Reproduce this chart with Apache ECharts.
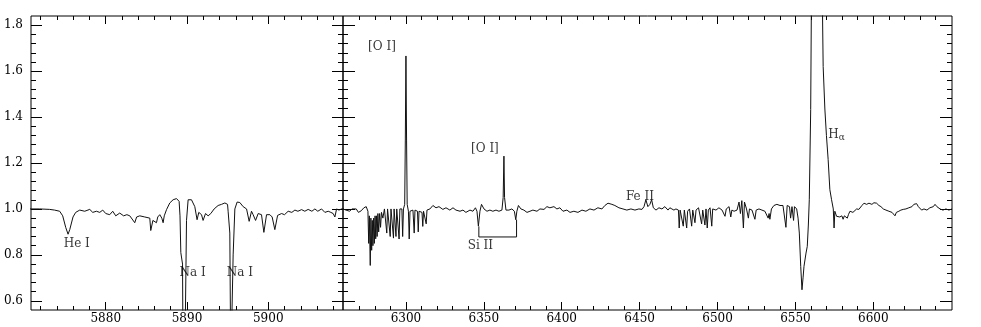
<!DOCTYPE html>
<html><head><meta charset="utf-8">
<script src="https://cdn.jsdelivr.net/npm/echarts@6/dist/echarts.min.js"></script>
<style>html,body{margin:0;padding:0;background:#fff}#c{width:981px;height:327px}</style>
</head><body><div id="c"></div>
<script>
// ---- data (wavelength in Angstrom, normalized flux) ----
const leftSpectrum = [
[5870.64,1.0],[5871.87,1.0],[5873.1,0.998],[5873.7,0.995],[5874.33,0.99],[5874.7,0.97],[5875.07,0.92],[5875.36,0.89],[5875.57,0.91],[5875.97,0.965],
[5876.3,0.985],[5876.8,0.995],[5877.41,0.99],[5878.03,0.998],[5878.4,0.985],[5878.85,0.99],[5879.26,0.985],[5879.63,0.995],[5880.0,0.98],[5880.49,0.975],
[5880.86,0.99],[5881.23,0.97],[5881.72,0.982],[5882.2,0.97],[5882.6,0.975],[5882.96,0.97],[5883.2,0.965],[5883.57,0.94],[5883.8,0.965],[5884.19,0.97],
[5884.8,0.965],[5885.42,0.96],[5885.54,0.906],[5885.8,0.95],[5885.91,0.955],[5886.24,0.94],[5886.4,0.965],[5886.65,0.975],[5886.9,0.96],[5887.06,0.94],
[5887.2,0.97],[5887.48,0.997],[5887.88,1.026],[5888.29,1.04],[5888.71,1.045],[5889.03,1.033],[5889.14,0.97],[5889.24,0.81],[5889.45,0.76],[5889.52,0.3],
[5889.67,0.3],[5889.79,0.5],[5889.94,0.95],[5890.14,1.04],[5890.55,1.04],[5890.96,1.01],[5891.24,0.953],[5891.45,0.985],[5891.79,0.975],[5891.98,0.95],
[5892.28,0.98],[5892.6,0.97],[5892.93,0.98],[5893.34,1.0],[5893.83,1.015],[5894.25,1.02],[5894.66,1.026],[5894.99,1.02],[5895.06,0.99],[5895.27,0.895],
[5895.39,0.3],[5895.55,0.3],[5895.68,0.8],[5895.89,1.0],[5896.17,1.03],[5896.5,1.028],[5896.91,1.01],[5897.33,1.0],[5897.65,0.946],[5897.94,0.99],
[5898.14,0.975],[5898.44,0.95],[5898.76,0.98],[5899.17,0.975],[5899.46,0.898],[5899.79,0.975],[5900.2,0.975],[5900.48,0.965],[5900.81,0.91],[5901.15,0.972],
[5901.64,0.98],[5902.0,0.975],[5902.45,0.99],[5902.9,0.985],[5903.28,0.995],[5903.65,0.99],[5904.1,0.997],[5904.5,0.99],[5904.91,0.998],[5905.37,0.99],
[5905.74,1.0],[5906.1,0.99],[5906.56,1.0],[5906.97,0.985],[5907.38,0.99],[5907.7,0.985],[5907.99,0.98],[5908.2,0.965],[5908.41,1.0],[5908.7,0.995],
[5909.03,1.0],[5909.3,1.0]
];
const rightSpectrum = [
[6259.6,1.0],[6261.5,0.995],[6263.9,0.99],[6265.3,1.0],[6268.1,1.0],[6269.5,0.985],[6271.3,0.992],[6273.0,1.005],[6274.5,1.01],[6275.6,0.99],
[6276.1,0.85],[6276.5,0.97],[6277.1,0.754],[6277.5,0.96],[6278.0,0.82],[6278.4,0.95],[6278.8,0.84],[6279.3,0.96],[6279.7,0.85],[6280.2,0.97],
[6280.6,0.87],[6281.1,0.97],[6281.5,0.88],[6282.0,0.98],[6282.5,0.9],[6283.1,0.98],[6283.7,0.92],[6284.3,0.985],[6285.2,0.96],[6286.2,1.0],
[6287.2,1.0],[6287.7,0.895],[6288.2,1.0],[6289.4,1.0],[6289.9,0.88],[6290.4,1.0],[6291.5,1.0],[6292.0,0.873],[6292.4,1.0],[6293.1,1.0],
[6293.6,0.88],[6294.1,1.0],[6295.2,1.0],[6295.6,0.869],[6296.1,1.0],[6297.4,1.0],[6297.9,0.88],[6298.4,1.0],[6299.2,1.02],[6299.6,1.3],
[6300.0,1.666],[6300.4,1.3],[6300.8,1.02],[6301.6,0.99],[6302.1,0.869],[6302.6,0.99],[6304.5,0.995],[6305.3,0.895],[6305.8,0.995],[6307.4,0.99],
[6307.9,0.9],[6308.4,0.99],[6310.3,0.985],[6310.8,0.924],[6311.3,0.99],[6312.5,0.99],[6313.0,0.935],[6313.5,0.995],[6315.4,1.0],[6317.3,1.015],
[6319.3,1.005],[6321.2,1.01],[6323.7,0.998],[6325.7,1.005],[6328.2,0.995],[6330.2,1.005],[6332.1,0.995],[6334.7,0.99],[6336.6,0.995],[6338.5,0.985],
[6341.1,0.995],[6343.0,0.99],[6344.6,1.005],[6345.6,0.99],[6346.5,0.925],[6347.5,0.99],[6348.5,1.02],[6350.1,1.0],[6352.0,0.99],[6353.9,0.995],
[6355.8,0.99],[6357.8,0.995],[6359.7,0.99],[6361.6,0.995],[6362.4,1.05],[6362.9,1.23],[6363.3,1.05],[6364.2,0.995],[6366.1,0.995],[6368.0,1.0],
[6369.6,0.99],[6370.5,0.953],[6371.2,0.99],[6372.2,1.015],[6373.8,1.0],[6375.7,0.995],[6377.7,0.985],[6379.6,0.99],[6381.5,0.995],[6384.1,0.99],
[6386.0,1.0],[6388.6,0.998],[6390.5,1.01],[6392.4,1.005],[6395.0,1.01],[6396.9,1.0],[6398.8,1.005],[6400.8,0.99],[6403.3,0.995],[6405.3,0.985],
[6407.8,0.99],[6410.4,0.985],[6413.0,0.995],[6415.5,0.99],[6418.1,1.0],[6420.7,0.995],[6423.2,1.005],[6425.8,1.0],[6427.7,1.015],[6429.7,1.025],
[6430.9,1.033],[6432.2,1.02],[6434.1,1.015],[6436.7,1.005],[6439.3,1.0],[6441.8,0.995],[6444.4,1.0],[6447.0,0.995],[6449.5,1.0],[6451.5,0.998],
[6452.8,1.01],[6454.0,1.04],[6455.3,1.01],[6456.6,1.02],[6457.7,1.04],[6458.8,1.005],[6460.5,0.995],[6462.4,1.005],[6464.3,1.0],[6466.2,1.01],
[6468.2,0.995],[6469.4,1.005],[6470.7,1.0],[6472.0,0.995],[6473.3,1.0],[6474.9,0.995],[6475.4,0.917],[6476.0,0.995],[6477.2,1.0],[6478.0,0.925],
[6478.7,0.995],[6480.2,0.917],[6480.8,0.99],[6482.0,1.0],[6483.4,0.925],[6484.1,0.995],[6485.5,0.94],[6486.2,0.995],[6487.8,1.005],[6489.8,0.935],
[6490.5,0.995],[6491.9,0.93],[6492.6,1.0],[6493.4,0.917],[6494.1,0.995],[6495.2,1.005],[6496.3,0.925],[6496.9,1.0],[6499.0,0.995],[6500.9,1.005],
[6502.9,0.995],[6504.8,0.968],[6505.6,1.0],[6507.4,1.01],[6508.5,0.965],[6509.2,0.995],[6510.6,0.99],[6512.5,0.995],[6513.8,1.03],[6514.7,0.98],
[6515.6,1.036],[6516.6,0.917],[6517.3,1.03],[6518.6,1.0],[6519.8,0.96],[6520.5,1.0],[6522.1,0.995],[6524.0,0.955],[6524.8,0.995],[6526.6,1.0],
[6528.5,0.995],[6530.4,0.99],[6532.5,0.96],[6533.1,0.98],[6533.6,0.955],[6534.6,1.0],[6536.2,1.015],[6538.1,1.02],[6540.1,1.015],[6542.0,1.015],
[6543.9,0.92],[6544.7,1.015],[6546.2,1.01],[6546.9,0.96],[6547.8,1.01],[6548.8,0.95],[6549.4,1.01],[6550.8,1.0],[6551.7,0.96],[6552.5,0.895],
[6553.4,0.75],[6554.2,0.648],[6554.9,0.7],[6555.5,0.75],[6556.8,0.808],[6557.6,0.837],[6558.3,0.93],[6558.9,1.04],[6559.5,1.3],[6559.8,1.433],
[6560.2,1.85],[6561.0,2.4],[6562.2,2.8],[6563.8,2.9],[6565.8,2.6],[6567.0,2.0],[6567.4,1.84],[6567.8,1.62],[6568.9,1.435],[6569.9,1.32],
[6571.0,1.215],[6572.1,1.084],[6573.2,1.04],[6574.3,1.0],[6574.8,0.917],[6575.3,0.99],[6576.4,0.968],[6577.5,0.97],[6578.5,0.965],[6579.8,0.97],
[6580.6,0.955],[6581.4,0.97],[6582.4,0.968],[6583.3,0.96],[6584.0,0.975],[6585.0,0.99],[6586.9,0.985],[6589.3,1.0],[6590.7,0.998],[6592.7,1.015],
[6594.0,1.025],[6595.7,1.02],[6597.2,1.025],[6599.1,1.02],[6600.4,1.027],[6602.1,1.025],[6603.6,1.015],[6604.9,1.01],[6606.4,1.0],[6608.1,0.995],
[6610.0,0.99],[6612.0,0.985],[6613.2,0.98],[6613.9,0.97],[6614.8,0.985],[6616.4,0.99],[6617.7,0.995],[6619.2,0.998],[6620.9,1.0],[6622.8,1.005],
[6624.8,1.01],[6626.0,1.02],[6627.8,1.023],[6628.9,1.01],[6631.0,0.995],[6632.5,1.0],[6634.4,0.995],[6636.3,1.005],[6638.5,1.01],[6639.6,1.02],
[6640.8,1.01],[6642.8,1.0],[6644.7,0.995],[6646.6,1.0],[6648.5,0.995],[6650.5,1.0]
];
const siBracket = [[6346.8,0.924],[6346.8,0.878],[6371.0,0.878],[6371.0,0.953]];
const leftNotes = [[5876.43,0.848,'He I'],[5890.7,0.722,'Na I'],[5896.5,0.722,'Na I']];
const rightNotes = [[6284.6,1.704,'[O I]'],[6350.7,1.26,'[O I]'],[6347.8,0.84,'Si II'],[6450.2,1.051,'Fe II']];
const halphaNote = [[6570.7,1.32,'Hα']];

const leftRange = [5870.8, 5909.2];
const rightRange = [6259.6, 6650.5];
const yRange = [0.56, 1.84];
const leftMajor = [5880, 5890, 5900];
const leftMinor = [5872,5874,5876,5878,5882,5884,5886,5888,5892,5894,5896,5898,5902,5904,5906,5908];
const rightMajor = [6300, 6350, 6400, 6450, 6500, 6550, 6600];
const rightMinor = [6270,6280,6290,6310,6320,6330,6340,6360,6370,6380,6390,6410,6420,6430,6440,6460,6470,6480,6490,6510,6520,6530,6540,6560,6570,6580,6590,6610,6620,6630,6640];
const yMajor = [0.6, 0.8, 1.0, 1.2, 1.4, 1.6, 1.8];
const yMinor = [0.64,0.68,0.72,0.76,0.84,0.88,0.92,0.96,1.04,1.08,1.12,1.16,1.24,1.28,1.32,1.36,1.44,1.48,1.52,1.56,1.64,1.68,1.72,1.76];

// ---- chart ----
const FONT = 'DejaVu Serif';
const chart = echarts.init(document.getElementById('c'), null, {renderer: 'canvas'});
const PLOT_TOP = 16, PLOT_BOTTOM = 17;
const grids = [
  {left: 31, right: 638, top: PLOT_TOP, bottom: PLOT_BOTTOM, show: true, borderColor: '#000', borderWidth: 1, backgroundColor: 'transparent'},
  {left: 31, right: 638, top: PLOT_TOP, bottom: PLOT_BOTTOM, show: false},
  {left: 343, right: 29, top: PLOT_TOP, bottom: PLOT_BOTTOM, show: true, borderColor: '#000', borderWidth: 1, backgroundColor: 'transparent'},
  {left: 343, right: 29, top: PLOT_TOP, bottom: PLOT_BOTTOM, show: false}
];
function ax(grid, range, ticks, len, pos, withLabels, fmt, margin) {
  return {
    type: 'value', gridIndex: grid, min: range[0], max: range[1], position: pos,
    axisLine: {show: false}, splitLine: {show: false},
    axisTick: {show: true, inside: true, length: len, customValues: ticks, lineStyle: {color: '#000', width: 1}},
    axisLabel: withLabels ? {show: true, customValues: ticks, margin: margin, color: '#000', fontFamily: FONT, fontSize: 12, formatter: fmt} : {show: false}
  };
}
const fmtX = v => String(Math.round(v));
const fmtY = v => v.toFixed(1);
const xAxes = [
  ax(0, leftRange, leftMajor, 8, 'bottom', true, fmtX, 3),
  ax(0, leftRange, leftMajor, 8, 'top', false),
  ax(1, leftRange, leftMinor, 4, 'bottom', false),
  ax(1, leftRange, leftMinor, 4, 'top', false),
  ax(2, rightRange, rightMajor, 8, 'bottom', true, fmtX, 3),
  ax(2, rightRange, rightMajor, 8, 'top', false),
  ax(3, rightRange, rightMinor, 4, 'bottom', false),
  ax(3, rightRange, rightMinor, 4, 'top', false)
];
const yAxes = [
  ax(0, yRange, yMajor, 11, 'left', true, fmtY, 8),
  ax(0, yRange, yMajor, 11, 'right', false),
  ax(1, yRange, yMinor, 5, 'left', false),
  ax(1, yRange, yMinor, 5, 'right', false),
  ax(2, yRange, yMajor, 12, 'left', false),
  ax(2, yRange, yMajor, 12, 'right', false),
  ax(3, yRange, yMinor, 5, 'left', false),
  ax(3, yRange, yMinor, 5, 'right', false)
];
function spec(data, xi, yi, w) {
  return {type: 'line', xAxisIndex: xi, yAxisIndex: yi, data: data, showSymbol: false, symbol: 'none',
    lineStyle: {color: '#111', width: w}, clip: true, silent: true, z: 3};
}
function notes(data, xi, yi, pos) {
  return {type: 'scatter', xAxisIndex: xi, yAxisIndex: yi, data: data, symbolSize: 1, silent: true, z: 5,
    itemStyle: {color: 'rgba(0,0,0,0)'},
    label: {show: true, position: pos, distance: 0, color: '#000', fontFamily: FONT, fontSize: 12,
      formatter: p => p.data[2]}};
}
const haSeries = {type: 'scatter', xAxisIndex: 4, yAxisIndex: 4, data: halphaNote, symbolSize: 1, silent: true, z: 5,
  itemStyle: {color: 'rgba(0,0,0,0)'},
  label: {show: true, position: 'right', distance: 0, color: '#000', fontFamily: FONT,
    formatter: () => '{h|H}{a|α}',
    rich: {h: {fontSize: 12, fontFamily: FONT, color: '#000', lineHeight: 14, verticalAlign: 'top'},
           a: {fontSize: 9, fontFamily: FONT, color: '#000', lineHeight: 10, padding: [8, 0, 0, 0], verticalAlign: 'bottom'}}}};
chart.setOption({
  animation: false,
  backgroundColor: '#fff',
  grid: grids,
  xAxis: xAxes,
  yAxis: yAxes,
  series: [
    spec(leftSpectrum, 0, 0, 1),
    spec(rightSpectrum, 4, 4, 1),
    {type: 'line', xAxisIndex: 4, yAxisIndex: 4, data: siBracket, showSymbol: false, symbol: 'none',
      lineStyle: {color: '#111', width: 1}, silent: true, z: 3},
    notes(leftNotes, 0, 0, 'inside'),
    notes(rightNotes, 4, 4, 'inside'),
    haSeries
  ]
});
</script>
</body></html>
